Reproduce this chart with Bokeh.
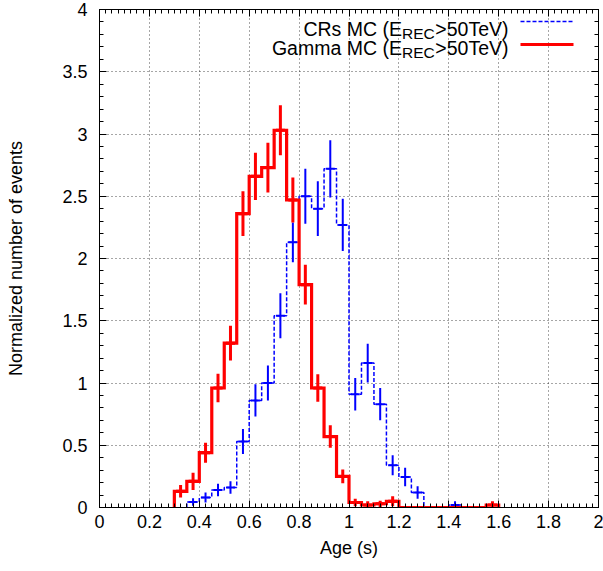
from bokeh.plotting import figure
from bokeh.models import FixedTicker, LinearAxis, Range1d
from bokeh.embed import file_html
from bokeh.resources import INLINE
from bokeh.core.properties import value

# ---------------- data ----------------
bin_width = 0.05

gamma_centers = [0.325, 0.375, 0.425, 0.475, 0.525, 0.575, 0.625, 0.675, 0.725,
                 0.775, 0.825, 0.875, 0.925, 0.975, 1.025, 1.075, 1.125, 1.175,
                 1.225, 1.275, 1.325, 1.375, 1.425, 1.475, 1.525, 1.575]
gamma_values = [0.13, 0.21, 0.44, 0.96, 1.32, 2.36, 2.66, 2.73, 3.03,
                2.47, 1.79, 0.96, 0.57, 0.25, 0.04, 0.02, 0.03, 0.05,
                0.0, 0.0, 0.0, 0.0, 0.0, 0.0, 0.0, 0.02]
gamma_errors = [0.05, 0.07, 0.08, 0.115, 0.14, 0.18, 0.19, 0.20, 0.20,
                0.18, 0.16, 0.11, 0.09, 0.055, 0.03, 0.03, 0.025, 0.04,
                0.0, 0.0, 0.0, 0.0, 0.0, 0.0, 0.0, 0.03]

cr_centers = [0.375, 0.425, 0.475, 0.525, 0.575, 0.625, 0.675, 0.725, 0.775,
              0.825, 0.875, 0.925, 0.975, 1.025, 1.075, 1.125, 1.175, 1.225,
              1.275, 1.325, 1.375, 1.425]
cr_values = [0.045, 0.08, 0.14, 0.16, 0.53, 0.86, 1.00, 1.54, 2.13,
             2.50, 2.40, 2.72, 2.27, 0.91, 1.16, 0.83, 0.34, 0.245,
             0.12, 0.0, 0.0, 0.02]
cr_errors = [0.03, 0.04, 0.05, 0.05, 0.10, 0.13, 0.14, 0.18, 0.16,
             0.22, 0.22, 0.23, 0.21, 0.13, 0.155, 0.13, 0.08, 0.075,
             0.05, 0.0, 0.0, 0.03]

x_ticks = [0, 0.2, 0.4, 0.6, 0.8, 1, 1.2, 1.4, 1.6, 1.8, 2]
x_tick_labels = ["0", "0.2", "0.4", "0.6", "0.8", "1", "1.2", "1.4", "1.6", "1.8", "2"]
y_ticks = [0, 0.5, 1, 1.5, 2, 2.5, 3, 3.5, 4]
y_tick_labels = ["0", "0.5", "1", "1.5", "2", "2.5", "3", "3.5", "4"]

legend_cr = ("CRs MC (E", "REC", ">50TeV)")
legend_gamma = ("Gamma MC (E", "REC", ">50TeV)")

# ---------------- helpers ----------------
def steps(centers, vals, w):
    xs = [centers[0] - w / 2]
    ys = [0.0]
    for c, v in zip(centers, vals):
        xs += [c - w / 2, c + w / 2]
        ys += [v, v]
    xs.append(centers[-1] + w / 2)
    ys.append(0.0)
    return xs, ys

def nonzero(centers, vals, errs):
    keep = [i for i, v in enumerate(vals) if v > 0]
    return ([centers[i] for i in keep], [vals[i] for i in keep], [errs[i] for i in keep])

# Arial / Liberation Sans advance widths (em)
AW = {'C': 0.722, 'R': 0.722, 's': 0.5, ' ': 0.278, 'M': 0.833, '(': 0.333,
      'E': 0.667, '>': 0.584, '5': 0.556, '0': 0.556, 'T': 0.611, 'e': 0.556,
      'V': 0.667, ')': 0.333, 'G': 0.778, 'a': 0.556, 'm': 0.833}
def tw(s, size):
    return sum(AW.get(ch, 0.556) for ch in s) * size

FONT = "Liberation Sans"
FS = 18
LFS = 19.5
SUB = 15.5

# frame geometry (page pixels)
FL, FR, FT, FB = 99, 598, 9, 507
W, H = 603, 571

# ---------------- figure ----------------
p = figure(width=W, height=H, x_range=Range1d(0, 2), y_range=Range1d(0, 4),
           output_backend="svg", toolbar_location=None,
           min_border_left=FL, min_border_right=W - FR, min_border_top=FT,
           min_border_bottom=H - FB)
p.background_fill_color = "white"
p.border_fill_color = "white"
p.outline_line_color = "black"
p.outline_line_width = 1

x_minor = [i * 0.025 for i in range(81)]
y_minor = [i * 0.1 for i in range(41)]
xt = FixedTicker(ticks=x_ticks, minor_ticks=x_minor)
yt = FixedTicker(ticks=y_ticks, minor_ticks=y_minor)

p.xaxis.ticker = xt
p.yaxis.ticker = yt
p.xaxis.major_label_overrides = dict(zip(x_ticks, x_tick_labels))
p.yaxis.major_label_overrides = dict(zip(y_ticks, y_tick_labels))

for ax in (p.xaxis[0], p.yaxis[0]):
    ax.major_tick_in = 7
    ax.major_tick_out = 0
    ax.minor_tick_in = 4
    ax.minor_tick_out = 0
    ax.axis_line_color = "black"
    ax.major_tick_line_color = "black"
    ax.minor_tick_line_color = "black"
    ax.major_label_text_font = FONT
    ax.major_label_text_font_size = f"{FS}px"
    ax.major_label_text_color = "black"
    ax.axis_label_text_font = FONT
    ax.axis_label_text_font_size = f"{FS}px"
    ax.axis_label_text_font_style = "normal"
    ax.axis_label_text_color = "black"

p.xaxis.axis_label = "Age (s)"
p.yaxis.axis_label = "Normalized number of events"
p.xaxis.major_label_standoff = 7
p.xaxis.axis_label_standoff = 7
p.yaxis.major_label_standoff = 12
p.yaxis.axis_label_standoff = 33

# mirrored tick marks on the top and right edges (no labels)
for loc, tk, ticks in (("above", xt, x_ticks), ("right", yt, y_ticks)):
    ax = LinearAxis(ticker=tk, major_label_text_font_size="1px", major_label_standoff=0,
                    major_tick_in=7, major_tick_out=0, minor_tick_in=4, minor_tick_out=0,
                    axis_line_color="black")
    ax.major_label_overrides = {t: "" for t in ticks}
    p.add_layout(ax, loc)

for g in (p.xgrid[0], p.ygrid[0]):
    g.grid_line_color = "black"
    g.grid_line_alpha = 0.7
    g.grid_line_dash = "1 3"
    g.grid_line_width = 1

# ---------------- CRs (blue, dashed) ----------------
bx, by = steps(cr_centers, cr_values, bin_width)
p.line(bx, by, line_color="#0000ff", line_width=1.5, line_dash="4 2")
cc, cv, ce = nonzero(cr_centers, cr_values, cr_errors)
p.segment(x0=cc, y0=[v - e for v, e in zip(cv, ce)], x1=cc, y1=[v + e for v, e in zip(cv, ce)],
          line_color="#0000ff", line_width=2)
p.scatter(cc, cv, marker="dash", size=9, line_color="#0000ff", line_width=2)

# ---------------- Gamma (red, thick) ----------------
rx, ry = steps(gamma_centers, gamma_values, bin_width)
p.line(rx, ry, line_color="#ff0000", line_width=3.2, line_join="miter")
gc, gv, ge = nonzero(gamma_centers, gamma_values, gamma_errors)
p.segment(x0=gc, y0=[v - e for v, e in zip(gv, ge)], x1=gc, y1=[v + e for v, e in zip(gv, ge)],
          line_color="#ff0000", line_width=3)
p.scatter(gc, gv, marker="dash", size=9, line_color="#ff0000", line_width=3)

# ---------------- legend (hand-built, with subscript) ----------------
def px2x(px):
    return (px - FL) / (FR - FL) * 2
def py2y(py):
    return 4 - (py - FT) / (FB - FT) * 4

x_right = px2x(508)
rows = [(legend_cr, 28, 21, dict(line_color="#0000ff", line_width=1.5, line_dash="4 2")),
        (legend_gamma, 47, 44, dict(line_color="#ff0000", line_width=3.2))]
for (m1, sub, m2), base_py, samp_py, style in rows:
    yb = py2y(base_py)
    w2 = tw(m2, LFS) - 1.5
    wsub = tw(sub, SUB)
    p.text(x=[x_right], y=[yb], text=[m2], text_align="right", text_baseline="alphabetic",
           text_font=value(FONT), text_font_size=f"{LFS}px", text_color="black")
    p.text(x=[x_right], y=[yb], text=[sub], x_offset=-w2, y_offset=5, text_align="right",
           text_baseline="alphabetic", text_font=value(FONT), text_font_size=f"{SUB}px",
           text_color="black")
    p.text(x=[x_right], y=[yb], text=[m1], x_offset=-(w2 + wsub), text_align="right",
           text_baseline="alphabetic", text_font=value(FONT), text_font_size=f"{LFS}px",
           text_color="black")
    p.segment(x0=[px2x(520)], y0=[py2y(samp_py)], x1=[px2x(573)], y1=[py2y(samp_py)], **style)

open("out.html", "w").write(file_html(p, INLINE))
